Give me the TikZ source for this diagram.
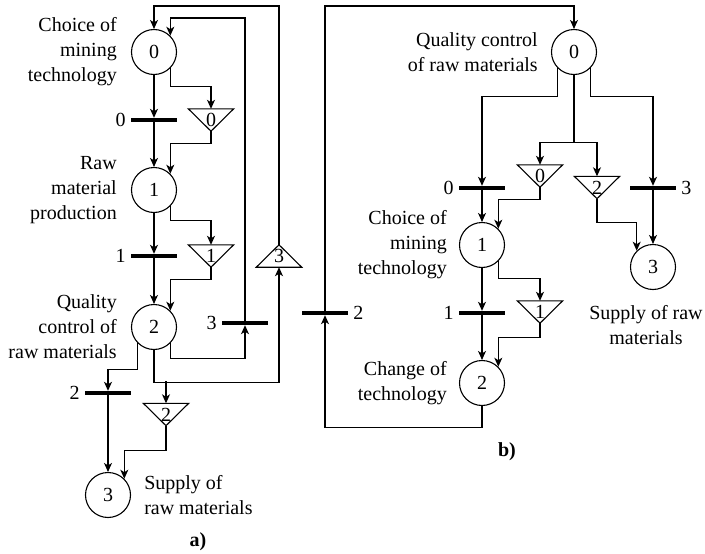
\documentclass[tikz,border=0pt]{standalone}
\usepackage{fontspec}
\setmainfont{Liberation Serif}
\usetikzlibrary{arrows.meta,positioning,calc}
\tikzset{
  gm/state/.style={draw, circle, line width=1.1pt, minimum size=45pt, inner sep=0pt},
  gm/bar/.style={fill=black, rectangle, minimum width=46pt, minimum height=4pt, inner sep=0pt},
  gm/trig/.style={rectangle, minimum width=45pt, minimum height=22pt, inner sep=0pt},
  gm/line/.style={line width=1.1pt},
  gm/flow/.style={gm/line, -{Stealth[length=9pt,width=8pt,inset=2.5pt]}},
  gm/text/.style={inner sep=0pt},
  gm/tag/.style={inner sep=0pt, font=\fontsize{20}{25}\selectfont\bfseries}
}

\begin{document}
\begin{tikzpicture}[x=1pt, y=-1pt, font=\fontsize{20}{25}\selectfont,
    label distance=5pt, every label/.style={inner sep=0pt}]
  \useasboundingbox (0,0) rectangle (705,554);
  \coordinate (rail1) at (0,6);
  \coordinate (rail2) at (0,18);

  % a) states, bars and triangles
  \node[gm/state] (a0) at (154,52) {0};
  \node[gm/state] (a1) at (154,190) {1};
  \node[gm/state] (a2) at (154,327) {2};
  \node[gm/state] (a3) at (108,495) {3};

  \node[gm/bar, label=left:0] (ba0) at (154,120) {};
  \node[gm/bar, label=left:1] (ba1) at (154,256) {};
  \node[gm/bar, label=left:2] (ba2) at (108,393) {};
  \node[gm/bar, label=left:3] (ba3) at (245,323) {};

  \node[gm/trig] (ta0) at (211,120) {0};
  \node[gm/trig] (ta1) at (211,256) {1};
  \node[gm/trig] (ta2) at (166,414.5) {2};
  \node[gm/trig] (ta3) at (279,256) {3};

  \node[gm/text, left=14pt of a0, align=right] (la0) {Choice of\\mining\\technology};
  \node[gm/text, left=14pt of a1, align=right] (la1) {Raw\\material\\production};
  \node[gm/text, left=14pt of a2, align=right] (la2) {Quality\\control of\\raw materials};
  \node[gm/text, right=13pt of a3, align=left] (la3) {Supply of\\raw materials};
  \node[gm/tag] (tagA) at (198,542) {a)};

  % b) states, bars and triangles
  \node[gm/state] (b0) at (574,52) {0};
  \node[gm/state] (b1) at (482,245) {1};
  \node[gm/state] (b2) at (482,383) {2};
  \node[gm/state] (b3) at (653,267) {3};

  \node[gm/bar, label=left:0] (bb0) at (482,188) {};
  \node[gm/bar, label=left:1] (bb1) at (482,313) {};
  \node[gm/bar, label=right:2] (bb2) at (325,313) {};
  \node[gm/bar, label=right:3] (bb3) at (653,188) {};

  \node[gm/trig] (tb0) at (540,176) {0};
  \node[gm/trig] (tb1) at (540,312) {1};
  \node[gm/trig] (tb2) at (597,187.5) {2};

  \node[gm/text, left=13pt of b0, align=right] (lb0) {Quality control\\of raw materials};
  \node[gm/text, left=12pt of b1, align=right] (lb1) {Choice of\\mining\\technology};
  \node[gm/text, left=12pt of b2, align=right] (lb2) {Change of\\technology};
  \node[gm/text, align=center] (lb3) at (646,325) {Supply of raw\\materials};
  \node[gm/tag] (tagB) at (507,452) {b)};

  \foreach \t in {ta0,ta1,ta2,tb0,tb1,tb2}
    \draw[gm/line] (\t.north west) -- (\t.north east) -- (\t.south) -- cycle;
  \draw[gm/line] (ta3.south west) -- (ta3.south east) -- (ta3.north) -- cycle;

  % a) connectors
  \draw[gm/flow] (a0) -- (ba0);
  \draw[gm/flow] (ba0) -- (a1);
  \draw[gm/flow] (a0.-45) |- ([yshift=22pt]ta0.north) -- (ta0.north);
  \draw[gm/flow] (ta0.south) -- ++(0,12) -| (a1.45);
  \draw[gm/flow] (a1) -- (ba1);
  \draw[gm/flow] (ba1) -- (a2);
  \draw[gm/flow] (a1.-45) |- ([yshift=24pt]ta1.north) -- (ta1.north);
  \draw[gm/flow] (ta1.south) -- ++(0,12) -| (a2.45);
  \draw[gm/flow] (a2.-135) |- ([yshift=21pt]ba2.north) -- (ba2.north);
  \draw[gm/flow] (ba2) -- (a3);
  \draw[gm/flow] (a2.south) |- ([yshift=-115pt]ta3.south) -- (ta3.south);
  \draw[gm/flow] ([yshift=22pt]ta2.north) -- (ta2.north);
  \draw[gm/flow] (ta2.south) -- ++(0,25) -| (a3.45);
  \draw[gm/flow] (a2.-45) |- ([yshift=-33pt]ba3.south) -- (ba3.south);
  \draw[gm/flow] (ba3.north) -- (ba3.north |- rail2) -| (a0.45);
  \draw[gm/flow] (ta3.north) -- (ta3.north |- rail1) -| (a0.north);

  % b) connectors
  \draw[gm/flow] (b0.-135) |- ([yshift=89pt]bb0.north) -- (bb0.north);
  \draw[gm/flow] (bb0) -- (b1);
  \draw[gm/flow] (b0.south) |- ([yshift=22pt]tb0.north) -- (tb0.north);
  \draw[gm/flow] (b0.south) |- ([yshift=34pt]tb2.north) -- (tb2.north);
  \draw[gm/flow] (b0.-45) |- ([yshift=89pt]bb3.north) -- (bb3.north);
  \draw[gm/flow] (bb3) -- (b3);
  \draw[gm/flow] (tb0.south) -- ++(0,12) -| (b1.45);
  \draw[gm/flow] (tb2.south) -- ++(0,24) -| (b3.135);
  \draw[gm/flow] (b1.-45) |- ([yshift=22pt]tb1.north) -- (tb1.north);
  \draw[gm/flow] (b1) -- (bb1);
  \draw[gm/flow] (bb1) -- (b2);
  \draw[gm/flow] (tb1.south) -- ++(0,14) -| (b2.45);
  \draw[gm/flow] (b2.south) |- ([yshift=-112pt]bb2.south) -- (bb2.south);
  \draw[gm/flow] (bb2.north) -- (bb2.north |- rail1) -| (b0.north);
\end{tikzpicture}
\end{document}
